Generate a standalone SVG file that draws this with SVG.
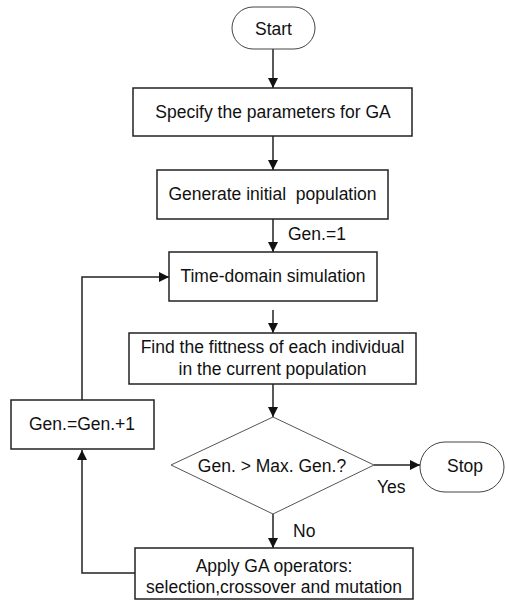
<svg xmlns="http://www.w3.org/2000/svg" width="506" height="601" viewBox="0 0 506 601">
<style>
text{font-family:"Liberation Sans",Arial,sans-serif;font-size:17.5px;fill:#111;white-space:pre}
.c{text-anchor:middle}
.box{fill:#fff;stroke:#222;stroke-width:1.5}
.term{fill:#fff;stroke:#444;stroke-width:1}
.dia{fill:#fff;stroke:#555;stroke-width:1}
.ln{fill:none;stroke:#222;stroke-width:1.5}
</style>
<defs>
<marker id="ah" viewBox="0 0 10 10" refX="10" refY="5" markerWidth="10" markerHeight="10" markerUnits="userSpaceOnUse" orient="auto">
<path d="M0,0 L10,5 L0,10 z" fill="#111"/>
</marker>
</defs>
<rect width="506" height="601" fill="#fff"/>
<g id="connectors">
<line class="ln" x1="273" y1="49" x2="273" y2="88" marker-end="url(#ah)"/>
<line class="ln" x1="273" y1="136" x2="273" y2="170" marker-end="url(#ah)"/>
<line class="ln" x1="273" y1="219" x2="273" y2="252" marker-end="url(#ah)"/>
<line class="ln" x1="273" y1="310" x2="273" y2="333" marker-end="url(#ah)"/>
<line class="ln" x1="273" y1="384" x2="273" y2="417" marker-end="url(#ah)"/>
<line class="ln" x1="374" y1="465" x2="420" y2="465" marker-end="url(#ah)"/>
<line class="ln" x1="273" y1="514" x2="273" y2="548" marker-end="url(#ah)"/>
<path class="ln" d="M135,573 H82 V450" marker-end="url(#ah)"/>
<path class="ln" d="M82,400 V277 H169" marker-end="url(#ah)"/>
<text x="288" y="240">Gen.=1</text>
<text x="377" y="493">Yes</text>
<text x="293" y="537">No</text>
</g>
<g id="start">
<rect class="term" x="232" y="7" width="83" height="42" rx="21" ry="21"/>
<text class="c" x="273.5" y="35">Start</text>
</g>
<g id="specify">
<rect class="box" x="133" y="88" width="279" height="48"/>
<text class="c" x="273" y="118">Specify the parameters for GA</text>
</g>
<g id="generate">
<rect class="box" x="157" y="170" width="231" height="49"/>
<text class="c" x="272.5" y="200">Generate initial  population</text>
</g>
<g id="timedomain">
<rect class="box" x="169" y="252" width="208" height="49"/>
<text class="c" x="273" y="282">Time-domain simulation</text>
</g>
<g id="fitness">
<rect class="box" x="129" y="333" width="287" height="51"/>
<text class="c" x="272.5" y="353">Find the fittness of each individual</text>
<text class="c" x="272.5" y="375">in the current population</text>
</g>
<g id="decision">
<polygon class="dia" points="273,417 374,465 273,514 171,465"/>
<text class="c" x="272" y="472">Gen. &gt; Max. Gen.?</text>
</g>
<g id="stop">
<rect class="term" x="420" y="442" width="84" height="50" rx="25" ry="25"/>
<text class="c" x="465" y="472">Stop</text>
</g>
<g id="apply">
<rect class="box" x="135" y="548" width="278" height="51"/>
<text class="c" x="274" y="572">Apply GA operators:</text>
<text class="c" x="274" y="593">selection,crossover and mutation</text>
</g>
<g id="genincr">
<rect class="box" x="11" y="400" width="143" height="49"/>
<text class="c" x="82" y="430">Gen.=Gen.+1</text>
</g>
</svg>
